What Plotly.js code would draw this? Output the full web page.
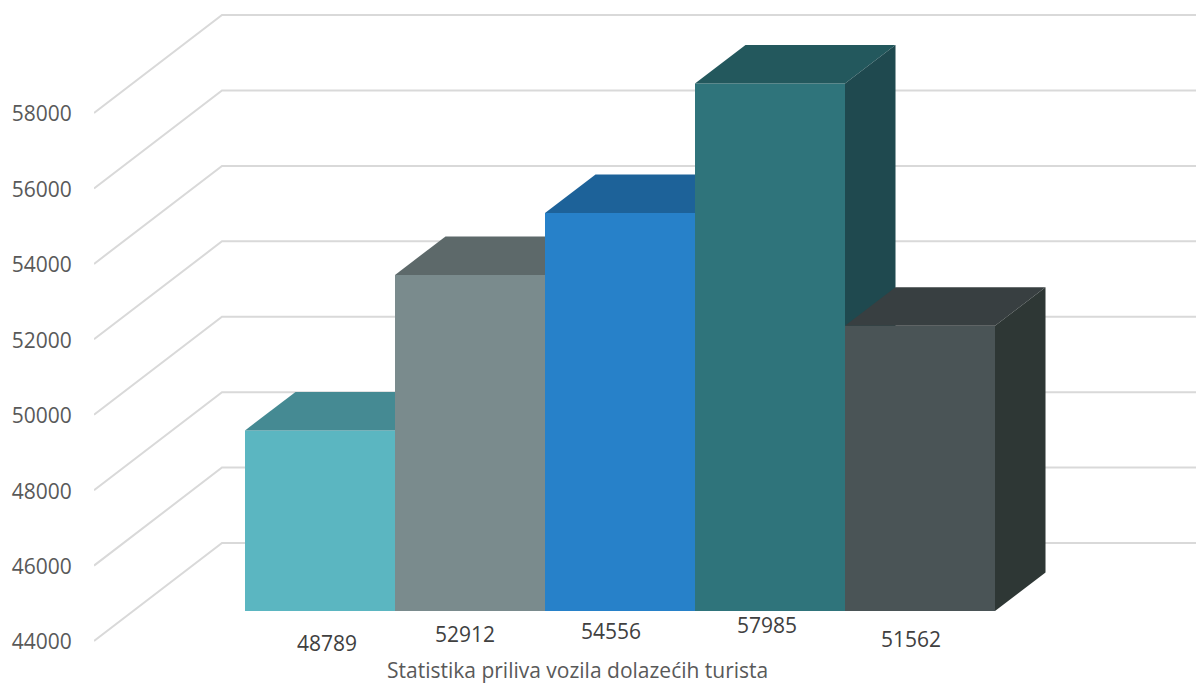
<!DOCTYPE html>
<html>
<head>
<meta charset="utf-8">
<script src="https://cdn.plot.ly/plotly-3.0.1.min.js"></script>
<style>html,body{margin:0;padding:0;background:#fff}#chart{width:1196px;height:684px}</style>
</head>
<body>
<div id="chart"></div>
<script>
// Vehicle arrivals, one pseudo-3D column per value
const values = [48789, 52912, 54556, 57985, 51562];
const frontColors = ['#5BB6C1', '#7A8B8D', '#2781C9', '#2F747B', '#4A5456'];
const topColors = ['#458A93', '#5D696A', '#1D6299', '#23585D', '#383F41'];
const sideColors = ['#2F6D74', '#4A5456', '#17507D', '#1F494F', '#2E3735'];
const axisTicks = [44000, 46000, 48000, 50000, 52000, 54000, 56000, 58000];
const chartTitle = 'Statistika priliva vozila dolazećih turista';

// Value labels sit unevenly under the columns: offsets from the column centre, in px
const labelShiftX = [7, -5, -9, -3, -9];
const labelShiftY = [-32, -23, -20, -14, -28];

const axisBase = 44000;
const xRange = [-1.5067, 5.84];
const yRange = [42860, 60998];

// Oblique projection: depth expressed in axis units
const floorToFront = 796;   // floor edge to the columns' front plane (value units)
const wallDepthX = 0.8533;
const wallDepthY = 2599;
const barDepthX = 0.3367;
const barDepthY = 1021;

const traces = [];
axisTicks.forEach(v => {
  traces.push({
    type: 'scatter', mode: 'lines', xaxis: 'x', yaxis: 'y', hoverinfo: 'skip', showlegend: false,
    x: [xRange[0], xRange[0] + wallDepthX, xRange[1]],
    y: [v, v + wallDepthY, v + wallDepthY],
    line: {color: '#D9D9D9', width: 2}
  });
});

const frontRange = [yRange[0] - floorToFront, yRange[1] - floorToFront];
const layoutAxes = {};
const annotations = [];

// Each column gets its own overlaid axis, so later columns paint over earlier ones
values.forEach((v, i) => {
  const axisId = 'y' + (i + 2);
  layoutAxes['yaxis' + (i + 2)] = {overlaying: 'y', range: frontRange, visible: false, fixedrange: true};
  const l = i - 0.5, r = i + 0.5;
  traces.push({
    type: 'bar', xaxis: 'x', yaxis: axisId, showlegend: false, hoverinfo: 'skip',
    x: [i], y: [v - axisBase], base: [axisBase], width: [1],
    marker: {color: frontColors[i], line: {width: 0}}
  });
  traces.push({
    type: 'scatter', mode: 'lines', xaxis: 'x', yaxis: axisId, showlegend: false, hoverinfo: 'skip',
    x: [l, r, r + barDepthX, l + barDepthX, l],
    y: [v, v, v + barDepthY, v + barDepthY, v],
    fill: 'toself', fillcolor: topColors[i], line: {width: 0}
  });
  traces.push({
    type: 'scatter', mode: 'lines', xaxis: 'x', yaxis: axisId, showlegend: false, hoverinfo: 'skip',
    x: [r, r + barDepthX, r + barDepthX, r, r],
    y: [axisBase, axisBase + barDepthY, v + barDepthY, v, axisBase],
    fill: 'toself', fillcolor: sideColors[i], line: {width: 0}
  });
  annotations.push({
    text: String(v), xref: 'x', yref: axisId, x: i, y: axisBase,
    xanchor: 'center', yanchor: 'middle', showarrow: false,
    xshift: labelShiftX[i], yshift: labelShiftY[i],
    font: {family: 'Open Sans, sans-serif', size: 21, color: '#404040'}
  });
});

annotations.push({
  text: chartTitle, xref: 'paper', yref: 'paper', x: 0.4392, y: 0,
  xanchor: 'center', yanchor: 'bottom', showarrow: false, borderpad: 0, yshift: -1,
  font: {family: 'Open Sans, sans-serif', size: 21, color: '#595959'}
});

const layout = Object.assign({
  width: 1196, height: 684,
  margin: {l: 94, r: 0, t: 0, b: 0},
  paper_bgcolor: '#fff', plot_bgcolor: '#fff',
  showlegend: false,
  xaxis: {range: xRange, visible: false, fixedrange: true},
  yaxis: {
    range: yRange, tickmode: 'array', tickvals: axisTicks, ticktext: axisTicks.map(String),
    showgrid: false, zeroline: false, showline: false, fixedrange: true,
    ticks: 'outside', ticklen: 17, tickcolor: 'rgba(0,0,0,0)',
    ticklabelshift: 1,
    tickfont: {family: 'Open Sans, sans-serif', size: 21, color: '#595959'}
  },
  annotations: annotations
}, layoutAxes);

Plotly.newPlot('chart', traces, layout, {displayModeBar: false, staticPlot: true});
</script>
</body>
</html>
